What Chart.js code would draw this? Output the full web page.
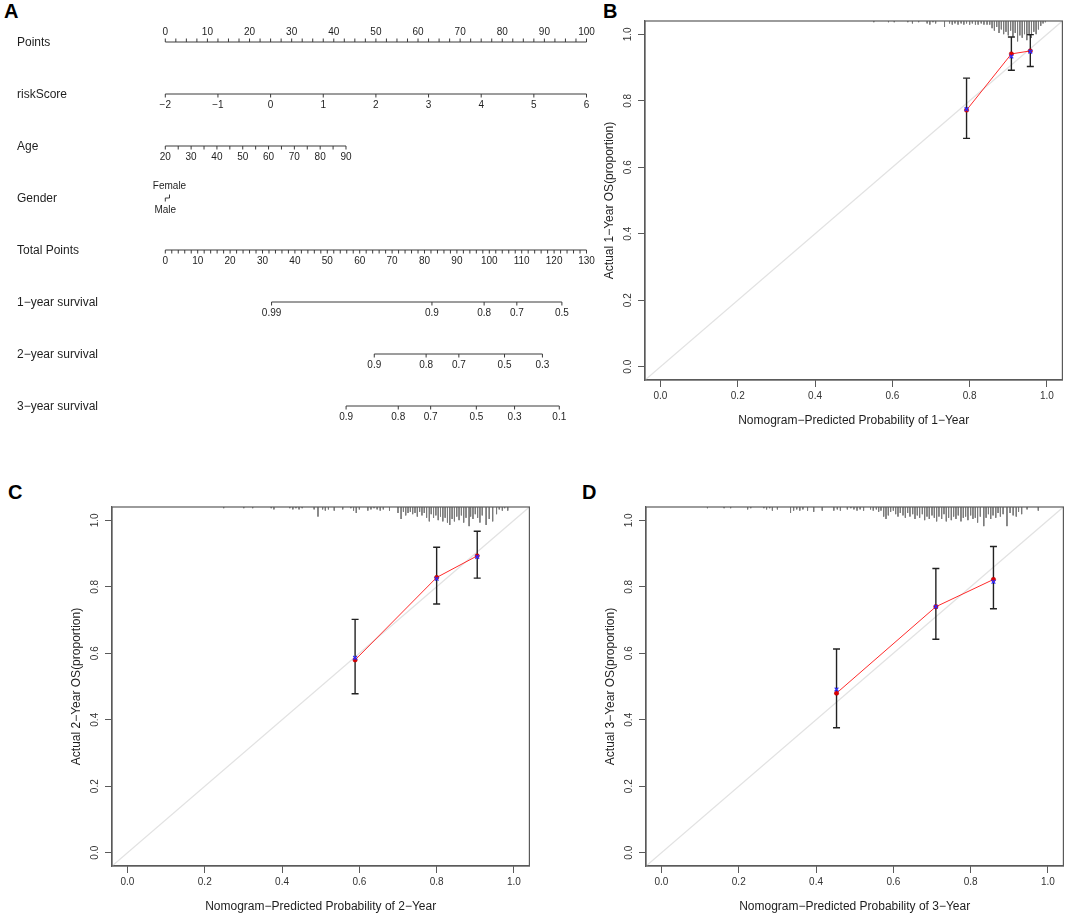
<!DOCTYPE html>
<html>
<head>
<meta charset="utf-8">
<title>Nomogram and calibration curves</title>
<script src="https://cdn.jsdelivr.net/npm/chart.js@4.4.1/dist/chart.umd.min.js"></script>
<style>
  html, body { margin: 0; padding: 0; background: #fff; overflow: hidden; }
  body { width: 1065px; height: 915px; position: relative; font-family: "Liberation Sans", Arial, sans-serif; }
  canvas { position: absolute; }
  .tag { position: absolute; font-weight: bold; font-size: 20px; line-height: 20px; color: #000; }
</style>
</head>
<body>
<div class="tag" style="left:4px; top:1px">A</div>
<div class="tag" style="left:603px; top:1px">B</div>
<div class="tag" style="left:8px; top:482px">C</div>
<div class="tag" style="left:582px; top:482px">D</div>

<canvas id="nomo" width="600" height="440" style="left:0; top:0"></canvas>
<canvas id="cal1" width="474" height="413" style="left:590.3px; top:18.7px"></canvas>
<canvas id="cal2" width="474" height="413" style="left:56.7px; top:505px"></canvas>
<canvas id="cal3" width="474" height="413" style="left:590.7px; top:505px"></canvas>

<script>
// ---- nomogram (panel A) ----
const rowNames = ["Points", "riskScore", "Age", "Gender", "Total Points",
  "1\u2212year survival", "2\u2212year survival", "3\u2212year survival"];
const pointsTicks = [0, 10, 20, 30, 40, 50, 60, 70, 80, 90, 100];
const riskTicks = [-2, -1, 0, 1, 2, 3, 4, 5, 6];
const ageTicks = [20, 30, 40, 50, 60, 70, 80, 90];
const agePointsAt90 = 42.9;          // points given to age 90
const genderLevels = ["Female", "Male"];
const genderPoints = [1.0, 0];
const totalTicks = [0, 10, 20, 30, 40, 50, 60, 70, 80, 90, 100, 110, 120, 130];
const surv1Labels = ["0.99", "0.9", "0.8", "0.7", "0.5"];
const surv1At = [32.8, 82.3, 98.4, 108.5, 122.4];     // in total points
const surv2Labels = ["0.9", "0.8", "0.7", "0.5", "0.3"];
const surv2At = [64.5, 80.5, 90.6, 104.7, 116.4];
const surv3Labels = ["0.9", "0.8", "0.7", "0.5", "0.3", "0.1"];
const surv3At = [55.8, 71.9, 81.9, 96.0, 107.8, 121.6];

const POINTS_MINOR = 2.5, AGE_MINOR = 5, TOTAL_MINOR = 2;

// ---- calibration (panels B, C, D) ----
const calTicks = [0, 0.2, 0.4, 0.6, 0.8, 1.0];

const pred1 = [0.792, 0.908, 0.957];
const obs1 = [0.772, 0.941, 0.950];
const lo1 = [0.687, 0.892, 0.903];
const hi1 = [0.868, 0.992, 0.999];
const cor1 = [0.775, 0.933, 0.948];

const pred2 = [0.589, 0.800, 0.905];
const obs2 = [0.580, 0.828, 0.893];
const lo2 = [0.478, 0.748, 0.826];
const hi2 = [0.702, 0.919, 0.967];
const cor2 = [0.586, 0.824, 0.890];

const pred3 = [0.453, 0.710, 0.859];
const obs3 = [0.480, 0.740, 0.822];
const lo3 = [0.376, 0.642, 0.734];
const hi3 = [0.613, 0.855, 0.921];
const cor3 = [0.491, 0.740, 0.815];

// distribution of predicted values (spike counts along the top)
const rug1X = [0.552,0.590,0.605,0.640,0.652,0.668,0.690,0.697,0.705,0.712,
  0.735,0.748,0.755,0.762,0.770,0.778,0.785,0.792,0.800,0.807,
  0.815,0.822,0.830,0.837,0.845,0.852,0.858,0.864,0.870,0.876,
  0.882,0.888,0.894,0.900,0.906,0.912,0.918,0.924,0.930,0.936,
  0.942,0.948,0.954,0.960,0.966,0.972,0.978,0.984,0.990,0.996];
const rug1N = [1,1,1,1,2,1,2,3,1,2, 5,2,3,2,3,2,3,2,3,2, 3,3,2,3,3,3,6,8,5,10,
  7,11,9,12,8,13,10,17,12,14, 11,16,12,14,9,11,7,4,2,1];

const rug2X = [0.249,0.301,0.324,0.372,0.379,0.420,0.428,0.436,0.444,0.452,
  0.483,0.493,0.505,0.512,0.520,0.535,0.557,0.578,0.585,0.592,
  0.600,0.622,0.630,0.638,0.646,0.654,0.662,0.678,0.700,0.708,
  0.714,0.720,0.726,0.732,0.738,0.744,0.750,0.756,0.762,0.768,
  0.774,0.781,0.786,0.792,0.798,0.804,0.810,0.816,0.822,0.828,
  0.834,0.840,0.846,0.852,0.858,0.864,0.870,0.876,0.884,0.888,
  0.894,0.900,0.906,0.912,0.918,0.928,0.936,0.945,0.955,0.962,
  0.970,0.976,0.984];
const rug2N = [1,1,1,1,2,1,2,1,2,1, 2,8,2,3,2,3,2,1,3,5, 2,3,2,1,2,3,2,3,5,10,
  4,7,5,4,6,5,8,4,7,5, 9,12,6,9,7,11,8,12,9,13, 15,10,12,8,11,7,13,9,16,8,
  10,6,9,13,7,15,10,12,6,2, 3,1,3];

const rug3X = [0.119,0.162,0.179,0.223,0.231,0.265,0.272,0.280,0.287,0.300,
  0.334,0.342,0.350,0.358,0.366,0.378,0.394,0.416,0.446,0.455,
  0.463,0.481,0.490,0.498,0.506,0.514,0.523,0.541,0.548,0.556,
  0.562,0.568,0.575,0.581,0.587,0.593,0.600,0.606,0.612,0.618,
  0.625,0.631,0.637,0.643,0.650,0.656,0.662,0.668,0.675,0.681,
  0.687,0.693,0.700,0.706,0.712,0.718,0.725,0.731,0.737,0.743,
  0.750,0.756,0.762,0.768,0.775,0.781,0.787,0.793,0.800,0.806,
  0.812,0.818,0.825,0.834,0.840,0.846,0.852,0.858,0.865,0.871,
  0.877,0.884,0.894,0.902,0.910,0.918,0.924,0.932,0.946,0.975];
const rug3N = [1,1,1,2,1,1,2,1,3,2, 5,3,2,3,2,3,4,3,3,2, 3,2,1,2,3,2,3,2,3,2,
  4,3,8,10,7,4,3,6,8,5, 7,9,5,8,6,10,7,9,6,11, 8,10,7,9,12,8,10,6,12,9,
  11,8,10,7,12,9,8,11,7,10, 9,13,8,16,9,6,10,7,9,5, 8,6,16,5,7,8,4,6,2,3];

const AX_MIN = -0.04, AX_MAX = 1.04;
const RUG_UNIT = 0.0036;

Chart.defaults.font.family = '"Liberation Sans", Arial, sans-serif';

const minus = v => (v < 0 ? "\u2212" + Math.abs(v) : String(v));
const stepTicks = (a, b, s) => {
  const out = [];
  for (let v = a; v <= b + 1e-9; v += s) out.push(+v.toFixed(3));
  return out;
};
const last = arr => arr[arr.length - 1];

// one entry per nomogram row
const rows = [
  { axis: "x", ticks: stepTicks(pointsTicks[0], last(pointsTicks), POINTS_MINOR),
    at: pointsTicks, text: pointsTicks.map(String), up: true },
  { axis: "xRisk", ticks: riskTicks, at: riskTicks, text: riskTicks.map(minus) },
  { axis: "xAge", ticks: stepTicks(ageTicks[0], last(ageTicks), AGE_MINOR),
    at: ageTicks, text: ageTicks.map(String) },
  { axis: "x", ticks: genderPoints, at: genderPoints, text: genderLevels,
    rot: [-90, 90], dy: [-12, 12.5] },
  { axis: "xTotal", ticks: stepTicks(totalTicks[0], last(totalTicks), TOTAL_MINOR),
    at: totalTicks, text: totalTicks.map(String) },
  { axis: "xTotal", ticks: surv1At, at: surv1At, text: surv1Labels },
  { axis: "xTotal", ticks: surv2At, at: surv2At, text: surv2Labels },
  { axis: "xTotal", ticks: surv3At, at: surv3At, text: surv3Labels }
];

const nomoSets = [];
rows.forEach((r, i) => {
  const lo = Math.min(...r.ticks), hi = Math.max(...r.ticks);
  nomoSets.push({
    type: "line", xAxisID: r.axis, yAxisID: "y",
    data: [{ x: lo, y: i }, { x: hi, y: i }],
    borderColor: "#3a3a3a", borderWidth: 1, pointRadius: 0, clip: false
  });
  nomoSets.push({
    type: "scatter", xAxisID: r.axis, yAxisID: "y",
    data: r.ticks.map(v => ({ x: v, y: i })),
    pointStyle: "dash", pointRadius: 3.5,
    pointRotation: r.rot ? r.rot : (r.up ? -90 : 90),
    borderColor: "#3a3a3a", pointBorderColor: "#3a3a3a", pointBorderWidth: 1,
    backgroundColor: "transparent", clip: false
  });
});

const nomoText = {
  id: "nomoText",
  afterDatasetsDraw(chart) {
    const ctx = chart.ctx, ys = chart.scales.y;
    ctx.save();
    ctx.fillStyle = "#1e1e1e";
    ctx.textBaseline = "middle";
    ctx.textAlign = "left";
    ctx.font = '12px "Liberation Sans", Arial, sans-serif';
    rowNames.forEach((name, i) => ctx.fillText(name, 17, ys.getPixelForValue(i) + 1));

    ctx.font = '10px "Liberation Sans", Arial, sans-serif';
    ctx.textAlign = "center";
    rows.forEach((r, i) => {
      const xs = chart.scales[r.axis];
      r.at.forEach((v, k) => {
        const dy = r.dy ? r.dy[k] : (r.up ? -10 : 11.5);
        ctx.fillText(r.text[k], xs.getPixelForValue(v), ys.getPixelForValue(i) + dy);
      });
    });
    ctx.restore();
  }
};

new Chart(document.getElementById("nomo"), {
  type: "scatter",
  data: { datasets: nomoSets },
  options: {
    responsive: false, animation: false, events: [],
    layout: { autoPadding: false, padding: { left: 165.3, right: 13.5, top: 42, bottom: 34 } },
    plugins: { legend: { display: false }, tooltip: { enabled: false } },
    scales: {
      x: { type: "linear", axis: "x", display: false, min: 0, max: 100 },
      xRisk: { type: "linear", axis: "x", display: false, min: riskTicks[0], max: last(riskTicks) },
      xAge: { type: "linear", axis: "x", display: false, min: ageTicks[0],
        max: ageTicks[0] + (last(ageTicks) - ageTicks[0]) * 100 / agePointsAt90 },
      xTotal: { type: "linear", axis: "x", display: false, min: 0, max: last(totalTicks) },
      y: { type: "linear", axis: "y", display: false, min: 0, max: rowNames.length - 1, reverse: true }
    }
  },
  plugins: [nomoText]
});

// ---- calibration charts ----
const frame = {
  id: "frame",
  afterDatasetsDraw(chart) {
    const a = chart.chartArea, ctx = chart.ctx;
    ctx.save();
    ctx.strokeStyle = "#5a5a5a";
    ctx.lineWidth = 1.2;
    ctx.strokeRect(a.left, a.top, a.right - a.left, a.bottom - a.top);
    ctx.restore();
  }
};

// fixed axis box sizes so every panel gets the same plot region
const fixSize = (s, w, h) => {
  if (w !== null) s.width = w;
  if (h !== null) s.height = h;
  s.paddingLeft = 0; s.paddingRight = 0; s.paddingTop = 0; s.paddingBottom = 0;
};

function calChart(id, year, pred, obs, lo, hi, cor, rugX, rugN) {
  const stems = [], caps = [], spikes = [];
  pred.forEach((p, i) => {
    stems.push({ x: p, y: lo[i] }, { x: p, y: hi[i] }, { x: p, y: null });
    caps.push({ x: p, y: lo[i] }, { x: p, y: hi[i] });
  });
  rugX.forEach((x, i) => {
    spikes.push({ x: x, y: AX_MAX }, { x: x, y: AX_MAX - (rugN[i] || 1) * RUG_UNIT }, { x: x, y: null });
  });
  const pts = vals => pred.map((p, i) => ({ x: p, y: vals[i] }));

  const tickFont = { size: 10 };
  const common = {
    type: "linear", min: AX_MIN, max: AX_MAX,
    afterBuildTicks: s => { s.ticks = calTicks.map(v => ({ value: v })); },
    grid: { drawOnChartArea: false, drawTicks: true, tickLength: 7, color: "#5a5a5a" },
    border: { display: true, color: "#5a5a5a", width: 1.2 }
  };

  return new Chart(document.getElementById(id), {
    type: "scatter",
    data: {
      datasets: [
        { data: pts(cor), pointStyle: "crossRot", pointRadius: 2.6,
          pointBorderColor: "#2b2bff", borderColor: "#2b2bff", pointBorderWidth: 1.3 },
        { data: pts(obs), pointStyle: "circle", pointRadius: 2.2,
          pointBackgroundColor: "#e00000", backgroundColor: "#e00000",
          pointBorderColor: "#b00000", borderColor: "#b00000", pointBorderWidth: 0.5 },
        { type: "line", data: pts(obs), borderColor: "#ff2a2a", borderWidth: 1, pointRadius: 0, fill: false },
        { data: caps, pointStyle: "line", pointRadius: 3.5,
          pointBorderColor: "#222", borderColor: "#222", pointBorderWidth: 1.4 },
        { type: "line", data: stems, borderColor: "#222", borderWidth: 1.4, pointRadius: 0, fill: false },
        { type: "line", data: spikes, borderColor: "#7a7a7a", borderWidth: 1, pointRadius: 0, fill: false },
        { type: "line", data: [{ x: AX_MIN, y: AX_MIN }, { x: AX_MAX, y: AX_MAX }],
          borderColor: "#e2e2e2", borderWidth: 1.3, pointRadius: 0, fill: false }
      ]
    },
    options: {
      responsive: false, animation: false, events: [],
      layout: { autoPadding: false, padding: { left: 0, right: 1.6, top: 2, bottom: 0 } },
      plugins: { legend: { display: false }, tooltip: { enabled: false } },
      scales: {
        x: Object.assign({}, common, {
          afterFit: s => fixSize(s, null, 52),
          ticks: { callback: v => Number(v).toFixed(1), font: tickFont, color: "#333",
            padding: 3.5, maxRotation: 0, autoSkip: false },
          title: { display: true, text: "Nomogram\u2212Predicted Probability of " + year,
            font: { size: 12 }, color: "#1e1e1e", padding: { top: 0, bottom: 4 } }
        }),
        y: Object.assign({}, common, {
          afterFit: s => fixSize(s, 55, null),
          ticks: { callback: v => Number(v).toFixed(1), font: tickFont, color: "#333",
            padding: 3, minRotation: 90, maxRotation: 90, crossAlign: "center", autoSkip: false },
          title: { display: true, text: "Actual " + year + " OS(proportion)",
            font: { size: 12 }, color: "#1e1e1e", padding: { top: 12.5, bottom: 0 } }
        })
      }
    },
    plugins: [frame]
  });
}

calChart("cal1", "1\u2212Year", pred1, obs1, lo1, hi1, cor1, rug1X, rug1N);
calChart("cal2", "2\u2212Year", pred2, obs2, lo2, hi2, cor2, rug2X, rug2N);
calChart("cal3", "3\u2212Year", pred3, obs3, lo3, hi3, cor3, rug3X, rug3N);
</script>
</body>
</html>
